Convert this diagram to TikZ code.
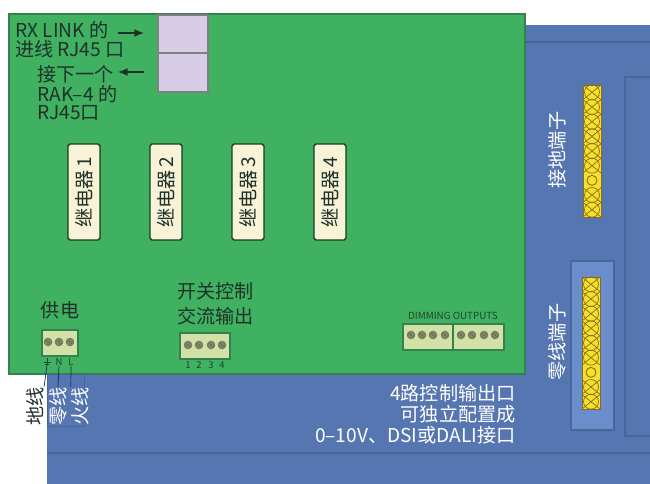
\documentclass[tikz,border=0pt]{standalone}
\usepackage{fontspec}
\usetikzlibrary{arrows.meta}
\setmainfont{Noto Sans CJK SC}
\definecolor{boardgreen}{HTML}{3FB161}
\definecolor{boardedge}{HTML}{35804F}
\definecolor{panelblue}{HTML}{5576B0}
\definecolor{panelline}{HTML}{47669A}
\definecolor{traywhite}{HTML}{6A8ECC}
\definecolor{barfill}{HTML}{F5E02A}
\definecolor{barline}{HTML}{8A6A20}
\definecolor{relayfill}{HTML}{F8F3D6}
\definecolor{portfill}{HTML}{D8CDE6}
\definecolor{plugfill}{HTML}{D2E2A6}
\definecolor{inkdark}{HTML}{20302A}
\tikzset{
  labeltext/.style={font=\fontsize{10.9}{13}\selectfont, text=inkdark, inner sep=0pt},
  whitetext/.style={font=\fontsize{10.9}{13}\selectfont, text=white, inner sep=0pt},
  relaybox/.style={draw=black!65!boardgreen, line width=0.8pt, fill=relayfill, rounded corners=1pt, rotate=90,
    minimum width=1.92cm, minimum height=0.64cm, inner sep=0pt, text=inkdark, font=\fontsize{10.9}{13}\selectfont},
  plugbox/.style={draw=boardedge, line width=0.6pt, fill=plugfill},
  screwhead/.style={draw=black!45!plugfill, fill=black!40!plugfill, line width=0.5pt},
  tinytext/.style={font=\fontsize{5.4}{6}\selectfont, text=boardedge!55!black, inner sep=0pt},
  wireline/.style={draw=black!55!panelline, line width=0.4pt},
  panelrule/.style={draw=panelline, line width=0.9pt},
  portarrow/.style={-{Latex[length=5.5pt,width=4.5pt]}, draw=inkdark, line width=0.8pt}
}
\newcommand{\terminalbar}[2]{%
  % one yellow strip, nine cells, cell seven has only a ring
  \fill[barfill] (#1,#2) rectangle ++(18,132);
  \draw[barline, line width=0.4pt] (#1,#2) rectangle ++(18,132);
  \foreach \c in {0,...,8}{
    \pgfmathsetmacro{\cy}{#2+7.33+14.67*\c}
    \ifnum\c=6
      \draw[barline, line width=0.5pt] (#1+9,\cy) circle (5);
    \else
      \draw[barline, line width=0.4pt] (#1+9,\cy) circle (7.5);
      \draw[barline, line width=0.4pt] (#1,\cy-7.3) -- (#1+18,\cy+7.3);
      \draw[barline, line width=0.4pt] (#1+18,\cy-7.3) -- (#1,\cy+7.3);
    \fi
  }
}
\begin{document}
\begin{tikzpicture}[x=0.02cm,y=-0.02cm]
  \useasboundingbox (0,0) rectangle (650,484);

  % Draw the blue panel behind the board
  \fill[panelblue] (47,25) rectangle (650,484);
  \draw[panelrule] (525,42) -- (650,42);
  \draw[panelrule] (47,453) -- (650,453);
  \draw[panelrule] (650,77) -- (625,77) -- (625,436) -- (650,436);

  % Neutral tray and the two yellow strips
  \filldraw[fill=traywhite, draw=panelline, line width=0.7pt] (571,261) rectangle (614,430);
  \terminalbar{583}{85}
  \terminalbar{582}{277}
  \node[whitetext, rotate=90] (earthbar) at (557,150) {接地端子};
  \node[whitetext, rotate=90] (neutralbar) at (557,342) {零线端子};

  % Draw the green board
  \filldraw[fill=boardgreen, draw=boardedge, line width=0.7pt] (9,14) rectangle (525,374);

  % RJ45 sockets
  \node[draw=black!50, line width=0.8pt, fill=portfill, minimum width=1cm, minimum height=0.76cm, inner sep=0pt] (portin) at (183,34) {};
  \node[draw=black!50, line width=0.8pt, fill=portfill, minimum width=1cm, minimum height=0.78cm, inner sep=0pt] (portout) at (183,72.5) {};

  % Socket labels
  \node[labeltext, anchor=west] (rxone) at (15,30) {RX LINK 的};
  \node[labeltext, anchor=west] (rxtwo) at (15,49) {进线 RJ45 口};
  \node[labeltext, anchor=west] (nextone) at (37,74) {接下一个};
  \node[labeltext, anchor=west] (nexttwo) at (37,94) {RAK–4 的};
  \node[labeltext, anchor=west] (nextthree) at (37,113) {RJ45口};
  \coordinate (rxstart) at (118,33);
  \coordinate (rxend) at (144,33);
  \coordinate (nextstart) at (144,72);
  \coordinate (nextend) at (118,72);
  \draw[portarrow] (rxstart) -- (rxend);
  \draw[portarrow] (nextstart) -- (nextend);

  % Relays
  \foreach \i/\xpos in {1/84,2/166,3/248,4/330}
    \node[relaybox] (relay\i) at (\xpos,192) {继电器\,\i\hspace{0.16cm}};

  % Power terminal
  \node[labeltext] (powertext) at (60,310) {供电};
  \filldraw[plugbox] (42,330) rectangle (78,356);
  \foreach \sx in {48,59,70}{
    \filldraw[screwhead] (\sx,342) circle (3.8);
    \draw[black!60, line width=0.4pt] (\sx-2.4,340) -- (\sx+2.4,344);
  }
  % Earth mark has no glyph, so it is drawn
  \coordinate (gndpin) at (47,365);
  \draw[boardedge!55!black, line width=0.5pt] (47,358) -- (47,364) (43.5,362) -- (50.5,362) (45,364) -- (49,364);
  \node[tinytext] (neutralpin) at (59,362) {N};
  \node[tinytext] (livepin) at (71,362) {L};

  % Wire names below the board
  \draw[panelline, line width=0.5pt] (47,374) rectangle (84,426);
  \node[labeltext, rotate=90] (gndtext) at (35,406) {地线};
  \node[whitetext, rotate=90] (neutraltext) at (58,406) {零线};
  \node[whitetext, rotate=90] (livetext) at (80,406) {火线};
  \draw[wireline] (gndpin) -- (gndtext.south east);
  \draw[wireline] (neutralpin.south) -- (neutraltext.east);
  \draw[wireline] (livepin.south) -- (livetext.north east);

  % Switched AC output
  \node[labeltext, anchor=west] (acone) at (177,291) {开关控制};
  \node[labeltext, anchor=west] (actwo) at (177,316) {交流输出};
  \filldraw[plugbox] (180,333) rectangle (230,359);
  \foreach \sx/\n in {188/1,199/2,211/3,222/4}{
    \filldraw[screwhead] (\sx,345) circle (3.8);
    \draw[black!60, line width=0.4pt] (\sx-2.4,343) -- (\sx+2.4,347);
    \node[tinytext] (acpin\n) at (\sx,365) {\n};
  }

  % Dimming outputs
  \node[tinytext, font=\fontsize{5.6}{6}\selectfont] (dimtext) at (453,316) {DIMMING OUTPUTS};
  \filldraw[plugbox] (403,324) rectangle (504,350);
  \draw[boardedge, line width=0.6pt] (453,324) -- (453,350);
  \foreach \sx in {411,422,433,445,461,472,484,495}{
    \filldraw[screwhead] (\sx,335) circle (3.8);
    \draw[black!60, line width=0.4pt] (\sx-2.4,333) -- (\sx+2.4,337);
  }

  % Text on the panel
  \node[whitetext, anchor=east] (outone) at (516,393) {4路控制输出口};
  \node[whitetext, anchor=east] (outtwo) at (516,414) {可独立配置成};
  \node[whitetext, anchor=east] (outthree) at (516,435) {0–10V、DSI或DALI接口};
\end{tikzpicture}
\end{document}
